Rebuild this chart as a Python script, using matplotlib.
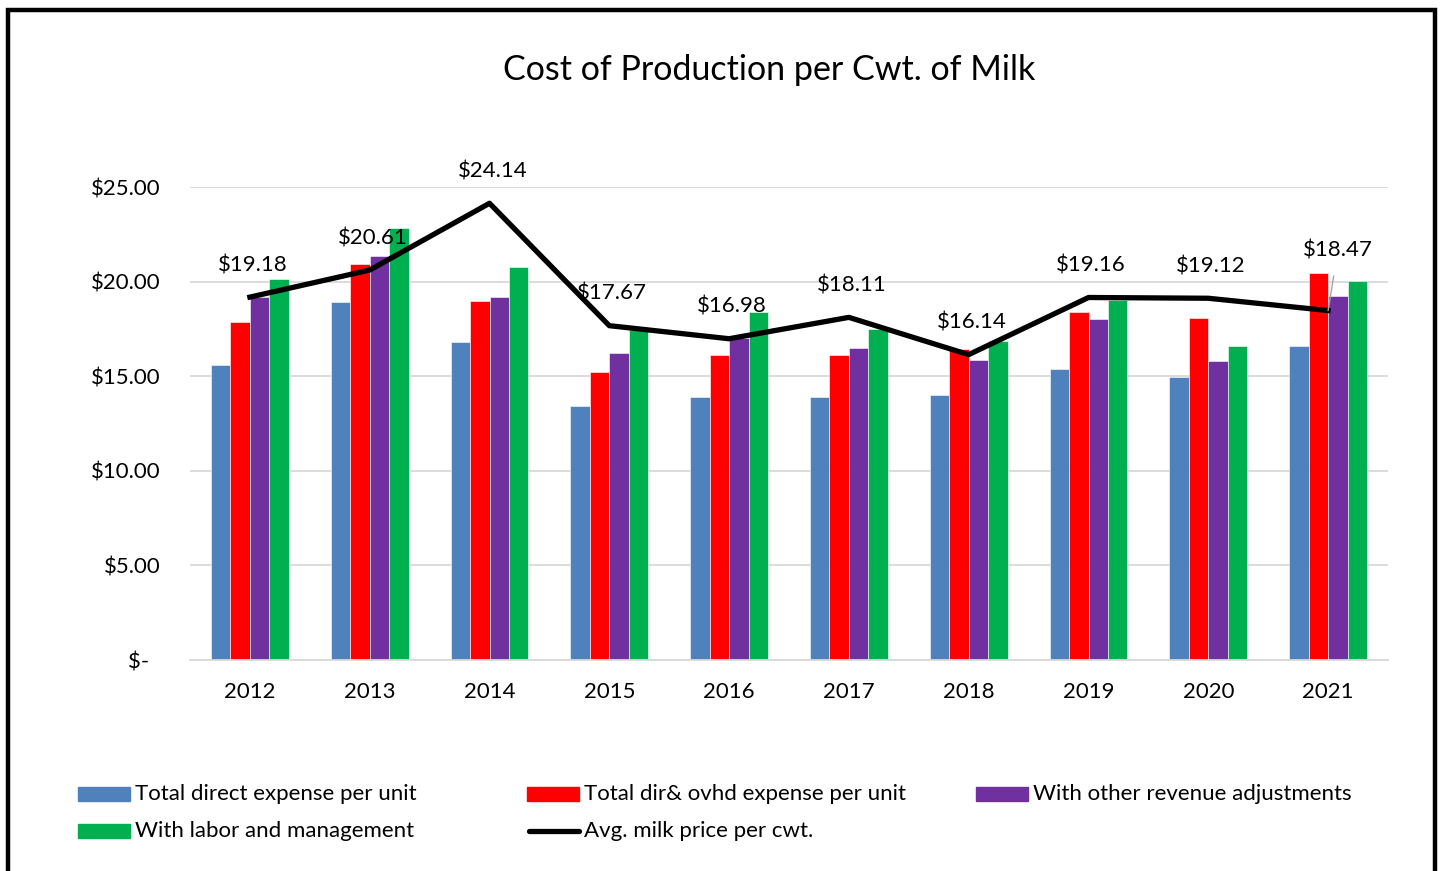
import matplotlib.pyplot as plt
import numpy as np
from matplotlib.patches import Rectangle
from matplotlib.lines import Line2D

plt.rcParams['font.family'] = ['Lato', 'DejaVu Sans']

years = ['2012', '2013', '2014', '2015', '2016', '2017', '2018', '2019', '2020', '2021']
direct = [15.59, 18.94, 16.79, 13.42, 13.88, 13.90, 14.00, 15.38, 14.96, 16.60]
dir_ovhd = [17.88, 20.91, 18.97, 15.22, 16.12, 16.12, 16.42, 18.39, 18.10, 20.44]
other_rev = [19.20, 21.37, 19.17, 16.23, 17.00, 16.47, 15.86, 18.04, 15.80, 19.26]
labor_mgmt = [20.15, 22.83, 20.79, 17.44, 18.38, 17.49, 16.88, 19.05, 16.58, 20.03]
milk_price = [19.18, 20.61, 24.14, 17.67, 16.98, 18.11, 16.14, 19.16, 19.12, 18.47]

series = [
    ('Total direct expense per unit', direct, '#4F81BD'),
    ('Total dir& ovhd expense per unit', dir_ovhd, '#FF0000'),
    ('With other revenue adjustments', other_rev, '#7030A0'),
    ('With labor and management', labor_mgmt, '#00B050'),
]
line_name = 'Avg. milk price per cwt.'

fs = 16

fig = plt.figure(figsize=(14.4, 8.71), dpi=100)
ax = fig.add_axes([190 / 1440, 1 - 660 / 871, 1198 / 1440, 473 / 871])

x = np.arange(len(years))
w = 0.1625
for i, (name, vals, col) in enumerate(series):
    ax.bar(x + (i - 1.5) * w, vals, w, color=col, edgecolor='white', linewidth=0.4, zorder=2)

ax.plot(x, milk_price, color='black', lw=3.8, solid_joinstyle='round', zorder=3)
for i, v in enumerate(milk_price):
    if i == len(years) - 1:
        ax.annotate(f'${v:.2f}', (x[i], v), xytext=(7, 43), textcoords='offset points',
                    ha='center', va='center', fontsize=fs, zorder=4,
                    arrowprops=dict(arrowstyle='-', color='#a6a6a6', lw=1,
                                    shrinkA=9, shrinkB=0))
    else:
        ax.annotate(f'${v:.2f}', (x[i], v), xytext=(2, 23), textcoords='offset points',
                    ha='center', va='center', fontsize=fs, zorder=4)

ax.set_xlim(-0.5, len(years) - 0.5)
ax.set_ylim(0, 25)
ax.set_yticks([0, 5, 10, 15, 20, 25])
ax.set_yticklabels(['$-  ', '$5.00', '$10.00', '$15.00', '$20.00', '$25.00'])
ax.set_xticks(x)
ax.set_xticklabels(years)
ax.tick_params(axis='y', length=0, pad=21, labelsize=fs)
ax.tick_params(axis='x', length=0, pad=16, labelsize=fs)
ax.grid(axis='y', color='#d9d9d9', lw=1.3, zorder=0)
ax.set_axisbelow(True)
for s in ['top', 'right', 'left']:
    ax.spines[s].set_visible(False)
ax.spines['bottom'].set_color('#d9d9d9')
ax.spines['bottom'].set_linewidth(1.3)

fig.text(769 / 1440, 1 - 70 / 871, 'Cost of Production per Cwt. of Milk',
         ha='center', va='center', fontsize=24.5)

# legend, laid out in fixed columns
W, H = 1440, 871
slots = [(78, 794), (527, 794), (976, 794), (78, 831)]
for (name, vals, col), (lx, ly) in zip(series, slots):
    fig.patches.append(Rectangle((lx / W, 1 - (ly + 7) / H), 52 / W, 14 / H,
                                 color=col, transform=fig.transFigure))
    fig.text((lx + 57) / W, 1 - ly / H, name, ha='left', va='center', fontsize=fs)
fig.lines.append(Line2D([529 / W, 579 / W], [1 - 831 / H, 1 - 831 / H], color='black',
                        lw=3.8, solid_capstyle='round', transform=fig.transFigure))
fig.text(584 / W, 1 - 831 / H, line_name, ha='left', va='center', fontsize=fs)

# outer frame
fig.patches.append(Rectangle((8 / W, -0.02), 1427 / W, 1.02 - 10 / H, fill=False,
                             edgecolor='black', lw=3.2, transform=fig.transFigure))

fig.savefig('out.png', dpi=100)
